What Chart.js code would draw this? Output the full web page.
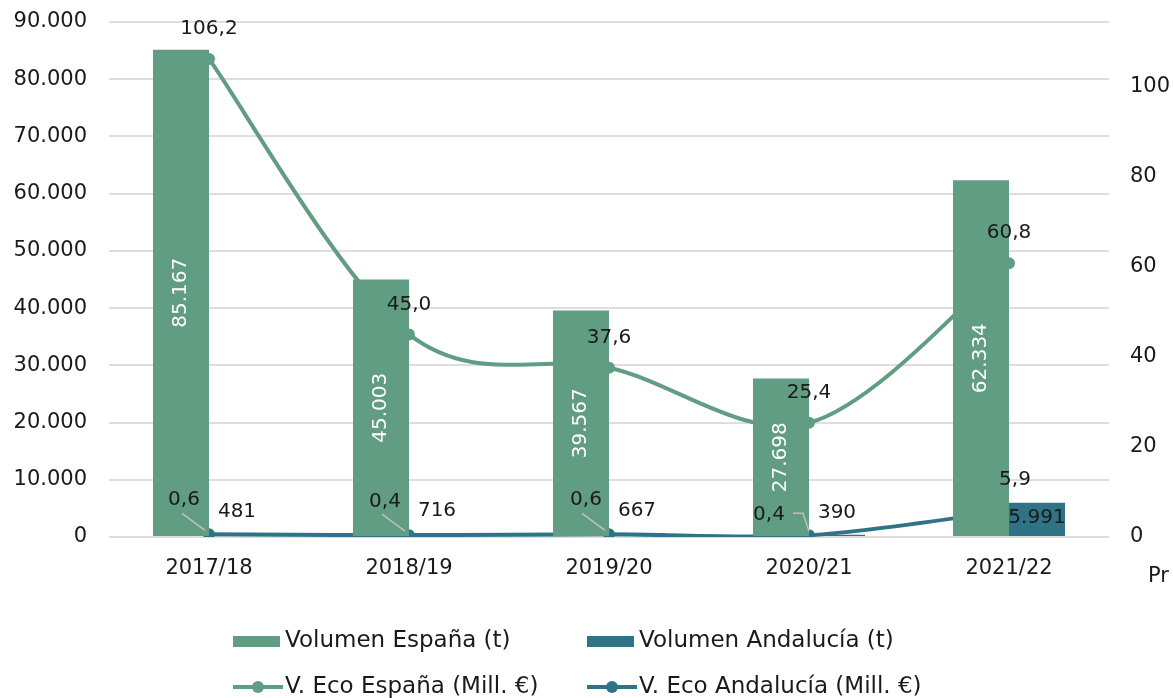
<!DOCTYPE html>
<html><head><meta charset="utf-8">
<script src="https://cdn.jsdelivr.net/npm/chart.js@4"></script>
<style>html,body{margin:0;padding:0;background:#fff;}#wrap{position:relative;width:1173px;height:698px;}</style>
</head><body><div id="wrap"><canvas id="c" width="1173" height="698"></canvas></div>
<script>
const categories = ['2017/18', '2018/19', '2019/20', '2020/21', '2021/22'];
const volEspana = [85167, 45003, 39567, 27698, 62334];
const volAndalucia = [481, 716, 667, 390, 5991];
const ecoEspana = [106.2, 45.0, 37.6, 25.4, 60.8];
const ecoAndalucia = [0.6, 0.4, 0.6, 0.4, 5.9];
const leftTicks = [0, 10000, 20000, 30000, 40000, 50000, 60000, 70000, 80000, 90000];
const rightTicks = [0, 20, 40, 60, 80, 100];
const seriesLabels = ['Volumen España (t)', 'Volumen Andalucía (t)', 'V. Eco España (Mill. €)', 'V. Eco Andalucía (Mill. €)'];
const rightAxisTitle = 'Pr';

const GREEN = '#609d82';
const TEAL = '#2e7386';
const FONT = '"DejaVu Sans", sans-serif';
const TXT = '#1a1a1a';

function fmtInt(v) { return String(v).replace(/\B(?=(\d{3})+(?!\d))/g, '.'); }
function fmtDec(v) { return v.toFixed(1).replace('.', ','); }

// Excel-style smoothing: control points at +/- (next - prev) / 6
const smoothPlugin = {
  id: 'excelSmooth',
  beforeDatasetsDraw(chart) {
    chart.data.datasets.forEach((ds, k) => {
      if (ds.type !== 'line') return;
      const meta = chart.getDatasetMeta(k);
      const line = meta.dataset;
      if (!line) return;
      if (typeof line.updateControlPoints === 'function') line.updateControlPoints(chart.chartArea, 'x');
      const pts = meta.data;
      for (let i = 0; i < pts.length; i++) {
        const p = pts[i], prev = pts[i - 1] || p, next = pts[i + 1] || p;
        const dx = (next.x - prev.x) / 6, dy = (next.y - prev.y) / 6;
        p.cp1x = p.x - dx; p.cp1y = p.y - dy;
        p.cp2x = p.x + dx; p.cp2y = p.y + dy;
      }
      line._path = undefined;
    });
  }
};

const labelPlugin = {
  id: 'vlabels',
  afterDatasetsDraw(chart) {
    const ctx = chart.ctx;
    ctx.save();
    ctx.font = '20px ' + FONT;
    ctx.textAlign = 'center';
    ctx.textBaseline = 'middle';
    chart.getDatasetMeta(0).data.forEach((bar, i) => {
      ctx.save();
      ctx.translate(bar.x, (bar.y + bar.base) / 2);
      ctx.rotate(-Math.PI / 2);
      ctx.fillStyle = '#ffffff';
      ctx.fillText(fmtInt(volEspana[i]), 0, 0);
      ctx.restore();
    });
    chart.getDatasetMeta(1).data.forEach((bar, i) => {
      ctx.fillStyle = TXT;
      const inside = (bar.base - bar.y) > 25;
      ctx.fillText(fmtInt(volAndalucia[i]), bar.x, inside ? bar.y + 15 : bar.y - 22);
    });
    chart.getDatasetMeta(2).data.forEach((pt, i) => {
      ctx.fillStyle = TXT;
      ctx.fillText(fmtDec(ecoEspana[i]), pt.x, pt.y - 30);
    });
    const offs = [[-25, -35, 'diag'], [-24, -33, 'diag'], [-23, -35, 'diag'], [-40, -20, 'elbow'], [6, -31, 'none']];
    chart.getDatasetMeta(3).data.forEach((pt, i) => {
      const o = offs[i];
      ctx.strokeStyle = '#c0c0c0';
      ctx.lineWidth = 1.5;
      if (o[2] === 'diag') {
        ctx.beginPath();
        ctx.moveTo(pt.x - 27, pt.y - 21);
        ctx.lineTo(pt.x - 4, pt.y - 4);
        ctx.stroke();
      } else if (o[2] === 'elbow') {
        ctx.beginPath();
        ctx.moveTo(pt.x - 16, pt.y - 22);
        ctx.lineTo(pt.x - 6, pt.y - 22);
        ctx.lineTo(pt.x, pt.y - 4);
        ctx.stroke();
      }
      ctx.fillStyle = TXT;
      ctx.fillText(fmtDec(ecoAndalucia[i]), pt.x + o[0], pt.y + o[1]);
    });
    ctx.restore();
  },
  afterDraw(chart) {
    const ctx = chart.ctx;
    ctx.save();
    const cols = [233, 587];
    const rows = [641, 687];
    ctx.font = '23px ' + FONT;
    ctx.textAlign = 'left';
    ctx.textBaseline = 'middle';
    chart.data.datasets.forEach((ds, k) => {
      const x = cols[k % 2], y = rows[Math.floor(k / 2)];
      if (ds.type === 'bar') {
        ctx.fillStyle = ds.backgroundColor;
        ctx.fillRect(x, y - 5, 47, 11);
      } else {
        ctx.strokeStyle = ds.borderColor;
        ctx.lineWidth = 4;
        ctx.beginPath();
        ctx.moveTo(x, y);
        ctx.lineTo(x + 50, y);
        ctx.stroke();
        ctx.fillStyle = ds.borderColor;
        ctx.beginPath();
        ctx.arc(x + 25, y, 6, 0, Math.PI * 2);
        ctx.fill();
      }
      ctx.fillStyle = TXT;
      ctx.fillText(ds.label, x + 52, y);
    });
    ctx.font = '21px ' + FONT;
    ctx.fillText(rightAxisTitle, 1148, 577);
    ctx.restore();
  }
};

new Chart(document.getElementById('c'), {
  data: {
    labels: categories,
    datasets: [
      { type: 'bar', label: seriesLabels[0], data: volEspana, backgroundColor: GREEN, yAxisID: 'y', order: 0,
        categoryPercentage: 0.56, barPercentage: 1.0 },
      { type: 'bar', label: seriesLabels[1], data: volAndalucia, backgroundColor: TEAL, yAxisID: 'y', order: 0,
        categoryPercentage: 0.56, barPercentage: 1.0 },
      { type: 'line', label: seriesLabels[2], data: ecoEspana, borderColor: GREEN, backgroundColor: GREEN, yAxisID: 'y1',
        borderWidth: 4, pointRadius: 6, pointBackgroundColor: GREEN, pointBorderWidth: 0, tension: 0.4, order: 1 },
      { type: 'line', label: seriesLabels[3], data: ecoAndalucia, borderColor: TEAL, backgroundColor: TEAL, yAxisID: 'y1',
        borderWidth: 4, pointRadius: 6, pointBackgroundColor: TEAL, pointBorderWidth: 0, tension: 0.4, order: 1 }
    ]
  },
  options: {
    responsive: false,
    animation: false,
    devicePixelRatio: 1,
    layout: { padding: { left: 0, right: 0, top: 22, bottom: 101 } },
    plugins: { legend: { display: false }, tooltip: { enabled: false } },
    scales: {
      x: {
        grid: { display: false, drawTicks: false },
        border: { display: false },
        ticks: { color: TXT, font: { family: FONT, size: 21 }, padding: 19, maxRotation: 0 },
        afterFit(s) { s.height = 60; s.paddingLeft = 0; s.paddingRight = 0; }
      },
      y: {
        position: 'left', min: 0, max: 90000,
        grid: { color: '#dedede', lineWidth: 2, drawTicks: false },
        border: { display: false },
        ticks: { color: TXT, font: { family: FONT, size: 21 }, padding: 22, callback: v => fmtInt(v) },
        afterBuildTicks(s) { s.ticks = leftTicks.map(v => ({ value: v })); },
        afterFit(s) { s.width = 109; s.paddingTop = 0; s.paddingBottom = 0; }
      },
      y1: {
        position: 'right', min: 0, max: 114.4,
        grid: { display: false, drawTicks: false },
        border: { display: false },
        ticks: { color: TXT, font: { family: FONT, size: 21 }, padding: 21, callback: v => String(v) },
        afterBuildTicks(s) { s.ticks = rightTicks.map(v => ({ value: v })); },
        afterFit(s) { s.width = 64; s.paddingTop = 0; s.paddingBottom = 0; }
      }
    }
  },
  plugins: [smoothPlugin, labelPlugin]
});
</script></body></html>
